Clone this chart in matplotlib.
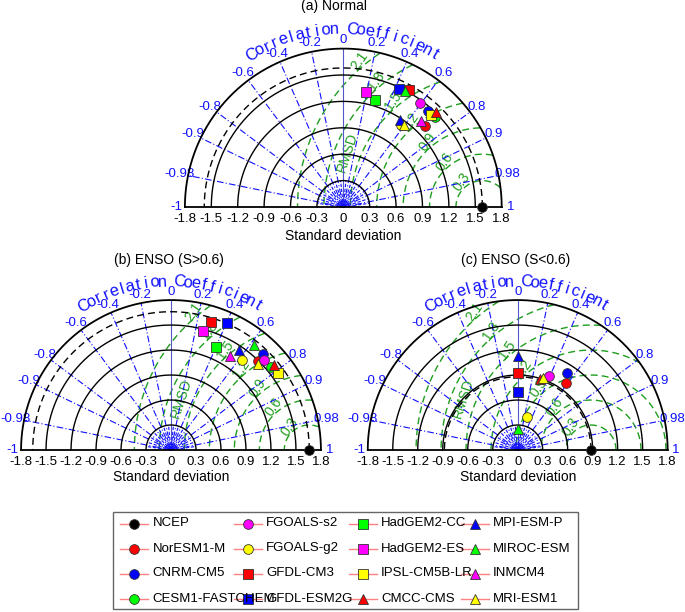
import numpy as np
import matplotlib
matplotlib.use('Agg')
import matplotlib.pyplot as plt
from matplotlib.patches import Rectangle

plt.rcParams['font.family'] = ['Liberation Sans', 'DejaVu Sans']

models = ['NCEP', 'NorESM1-M', 'CNRM-CM5', 'CESM1-FASTCHEM',
          'FGOALS-s2', 'FGOALS-g2', 'GFDL-CM3', 'GFDL-ESM2G',
          'HadGEM2-CC', 'HadGEM2-ES', 'IPSL-CM5B-LR', 'CMCC-CMS',
          'MPI-ESM-P', 'MIROC-ESM', 'INMCM4', 'MRI-ESM1']
markers = ['o', 'o', 'o', 'o', 'o', 'o', 's', 's',
           's', 's', 's', '^', '^', '^', '^', '^']
colors = ['#000000', '#ff0000', '#0000ff', '#00ff00', '#ff00ff', '#ffff00', '#ff0000', '#0000ff',
          '#00ff00', '#ff00ff', '#ffff00', '#ff0000', '#0000ff', '#00ff00', '#ff00ff', '#ffff00']

# standard deviation / correlation of each model, first entry is the reference (NCEP)
std_a = [1.58, 1.30, 1.45, 1.46, 1.47, 1.14, 1.52, 1.48, 1.27, 1.33, 1.45, 1.51, 1.18, 1.49, 1.31, 1.16]
corr_a = [1.0, 0.71, 0.66, 0.71, 0.59, 0.58, 0.49, 0.43, 0.28, 0.19, 0.69, 0.70, 0.55, 0.47, 0.67, 0.59]

std_b = [1.66, 1.50, 1.60, 1.56, 1.55, 1.37, 1.61, 1.67, 1.35, 1.48, 1.58, 1.60, 1.45, 1.61, 1.33, 1.47]
corr_b = [1.0, 0.70, 0.69, 0.77, 0.72, 0.62, 0.30, 0.40, 0.40, 0.26, 0.81, 0.77, 0.56, 0.62, 0.53, 0.71]

nan = np.nan
std_c = [0.88, 0.99, 1.10, nan, 0.97, 0.41, 0.93, 0.70, nan, nan, nan, 0.89, 1.13, 0.25, nan, 0.91]
corr_c = [1.0, 0.59, 0.54, nan, 0.39, 0.27, 0.0, 0.0, nan, nan, nan, 0.30, 0.0, 0.0, nan, 0.33]

titles = ['(a) Normal', '(b) ENSO (S>0.6)', '(c) ENSO (S<0.6)']
corr_ticks = [-0.98, -0.9, -0.8, -0.6, -0.4, -0.2, 0, 0.2, 0.4, 0.6, 0.8, 0.9, 0.98]
corr_minor = [-0.99, -0.95, -0.85, -0.7, -0.5, -0.3, -0.1, 0.1, 0.3, 0.5, 0.7, 0.85, 0.95, 0.99]
std_ticks = [-1.8, -1.5, -1.2, -0.9, -0.6, -0.3, 0, 0.3, 0.6, 0.9, 1.2, 1.5, 1.8]
std_arcs = [0.3, 0.6, 0.9, 1.2, 1.5]
rmsd_levels = [0.3, 0.6, 0.9, 1.2, 1.5, 1.8, 2.1]

RMAX = 1.8
BLUE = '#1010ff'
GREEN = '#1f9e1f'
W, H = 685, 612


def make_axes(fig, cx, cy, scale):
    # cx, cy: pixel position of the diagram origin (from top-left), scale: pixels per unit
    xmin, xmax, ymin, ymax = -2.3, 2.3, -0.45, 2.35
    ax = fig.add_axes([(cx + xmin * scale) / W, (H - cy + ymin * scale) / H,
                       (xmax - xmin) * scale / W, (ymax - ymin) * scale / H])
    ax.set_xlim(xmin, xmax)
    ax.set_ylim(ymin, ymax)
    ax.axis('off')
    ax.patch.set_visible(False)
    return ax


def draw_taylor(ax, std, corr, title, title_x):
    ref = std[0]
    t = np.linspace(0, np.pi, 500)

    # rmsd contours
    for r in rmsd_levels:
        x = ref + r * np.cos(t)
        y = r * np.sin(t)
        out = x ** 2 + y ** 2 > RMAX ** 2
        x[out] = np.nan
        y[out] = np.nan
        ax.plot(x, y, color=GREEN, lw=1.0, dashes=(5, 3), zorder=2)
        a = np.radians(130)
        ax.text(ref + (r + 0.07) * np.cos(a), (r + 0.07) * np.sin(a), f'{r:g}',
                color=GREEN, fontsize=10, rotation=55, ha='center', va='center', zorder=2)
    a = np.radians(158)
    ax.text(ref + 1.65 * np.cos(a), 1.65 * np.sin(a), 'RMSD', color=GREEN, fontsize=10,
            rotation=72, ha='center', va='center', zorder=2)

    # correlation lines
    for c in corr_ticks:
        th = np.arccos(c)
        if c == 0:
            ax.plot([0, 0], [0, RMAX], color='#5555cc', lw=0.8, zorder=3)
        else:
            ax.plot([0, RMAX * np.cos(th)], [0, RMAX * np.sin(th)], color=BLUE, lw=0.8,
                    dashes=(6, 2, 1, 2), zorder=3)
    for c in corr_minor:
        th = np.arccos(c)
        ax.plot([0, 0.3 * np.cos(th)], [0, 0.3 * np.sin(th)], color=BLUE, lw=0.8,
                dashes=(3, 1.5), zorder=3)
    for c in corr_ticks + [-1, 1]:
        th = np.arccos(c)
        ax.text(1.9 * np.cos(th), 1.9 * np.sin(th), f'{c:g}', color=BLUE, fontsize=9.5,
                ha='center', va='center')

    # std arcs
    for r in std_arcs:
        ax.plot(r * np.cos(t), r * np.sin(t), color='black', lw=1.0, zorder=3)
    ax.plot(RMAX * np.cos(t), RMAX * np.sin(t), color='black', lw=1.3, zorder=3)
    ax.plot([-RMAX, RMAX], [0, 0], color='black', lw=1.3, zorder=3)
    ax.plot(ref * np.cos(t), ref * np.sin(t), color='black', lw=1.0, dashes=(5, 3), zorder=3)

    # curved label
    label = 'Correlation Coefficient'
    angs = np.linspace(121, 59, len(label))
    for ch, ang in zip(label, angs):
        a = np.radians(ang)
        ax.text(2.02 * np.cos(a), 2.02 * np.sin(a), ch, color=BLUE, fontsize=12,
                rotation=ang - 90, ha='center', va='center')

    for v in std_ticks:
        ax.text(v, -0.14, f'{v:g}', fontsize=9.5, ha='center', va='center')
    ax.text(0, -0.33, 'Standard deviation', fontsize=10, ha='center', va='center')
    ax.text(title_x, 2.28, title, fontsize=10, ha='center', va='center')

    # model points
    for s, c, m, col in zip(std, corr, markers, colors):
        if np.isnan(s):
            continue
        th = np.arccos(c)
        ax.plot(s * np.cos(th), s * np.sin(th), marker=m, color=col, markersize=7,
                markeredgecolor='#333333', markeredgewidth=0.6, ls='none', zorder=5,
                clip_on=False)


fig = plt.figure(figsize=(6.85, 6.12), dpi=100)

ax_a = make_axes(fig, 343.3, 207, 88)
draw_taylor(ax_a, std_a, corr_a, titles[0], -0.1)
ax_b = make_axes(fig, 171, 450, 83.3)
draw_taylor(ax_b, std_b, corr_b, titles[1], -0.02)
ax_c = make_axes(fig, 517.7, 450, 83.3)
draw_taylor(ax_c, std_c, corr_c, titles[2], -0.03)

# legend drawn by hand so long names can run over like in the original
lg = fig.add_axes([0, 0, 1, 1])
lg.set_xlim(0, W)
lg.set_ylim(H, 0)
lg.axis('off')
lg.patch.set_visible(False)
lg.add_patch(Rectangle((113, 511.5), 465, 97.5, fill=False, edgecolor='#666666', lw=1.0))
col_x = [134.5, 248, 363, 475]
row_y = [523.5, 548.5, 573.5, 598.5]
for i, name in enumerate(models):
    x = col_x[i // 4]
    y = row_y[i % 4]
    lg.plot([x - 14, x + 14], [y, y], color='#ff8080', lw=1.0)
    lg.plot(x, y, marker=markers[i], color=colors[i], markersize=7,
            markeredgecolor='#333333', markeredgewidth=0.6, ls='none')
    lg.text(x + 18, y, name, fontsize=9.5, ha='left', va='center')

fig.savefig('out.png', dpi=100)
